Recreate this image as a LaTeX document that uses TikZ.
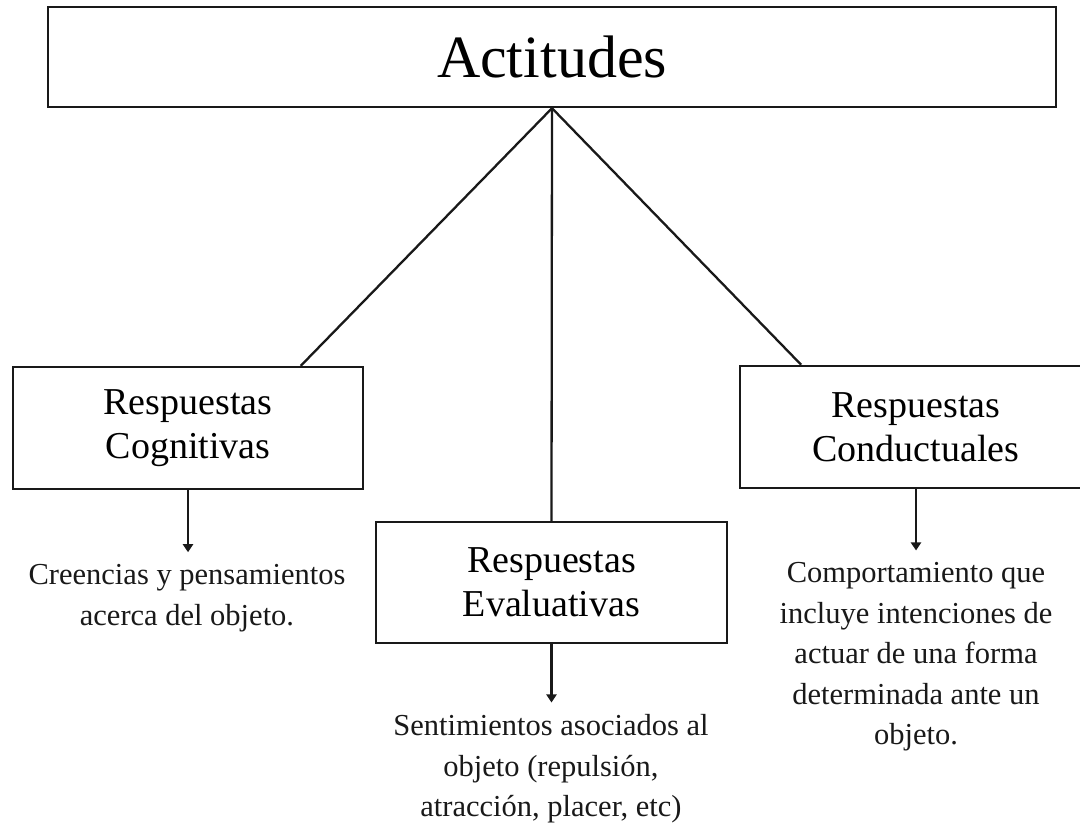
\documentclass[tikz,border=0pt]{standalone}
\usepackage{fontspec}
\setmainfont{Liberation Serif}
\usetikzlibrary{arrows.meta,calc}
\begin{document}
\begin{tikzpicture}[x=1pt,y=-1pt,
  box/.style={draw=black!90, line width=2.4pt, inner sep=0pt},
  lab/.style={font=\fontsize{38}{44}\selectfont, align=center},
  desc/.style={font=\fontsize{30.5}{40.5}\selectfont, align=center, inner sep=0pt, text=black!90},
  conn/.style={line width=2.3pt, draw=black!90},
  arr/.style={line width=2.2pt, draw=black!90, -{Triangle[length=8pt,width=10pt]}, shorten >=12pt}]
\clip (0,0) rectangle (1080,827);
\node[box, minimum width=1008pt, minimum height=100pt, font=\fontsize{60}{70}\selectfont] (top) at (552,57) {Actitudes};
\node[box, lab, minimum width=350pt, minimum height=122pt] (cog) at (188,428) {Respuestas\\Cognitivas};
\node[box, lab, minimum width=351pt, minimum height=121pt] (eva) at (551.5,582.5) {Respuestas\\Evaluativas};
\node[box, lab, minimum width=352pt, minimum height=122pt] (cond) at (916,427) {Respuestas\\Conductuales};
\node[desc] (creencias) at (187,598) {Creencias y pensamientos\\acerca del objeto.};
\node[desc] (sent) at (551,769) {Sentimientos asociados al\\objeto (repulsión,\\atracción, placer, etc)};
\node[desc] (comp) at (916,657) {Comportamiento que\\incluye intenciones de\\actuar de una forma\\determinada ante un\\objeto.};
\draw[conn] (top.south) -- ($(cog.north west)!0.82!(cog.north east)$);
\draw[conn] (top.south) -- (eva.north);
\draw[conn] (top.south) -- ($(cond.north west)!0.176!(cond.north east)$);
\draw[arr] (cog.south) -- (cog.south |- creencias.north);
\draw[arr] (eva.south) -- (eva.south |- sent.north);
\draw[arr] (cond.south) -- (cond.south |- comp.north);
\end{tikzpicture}
\end{document}
